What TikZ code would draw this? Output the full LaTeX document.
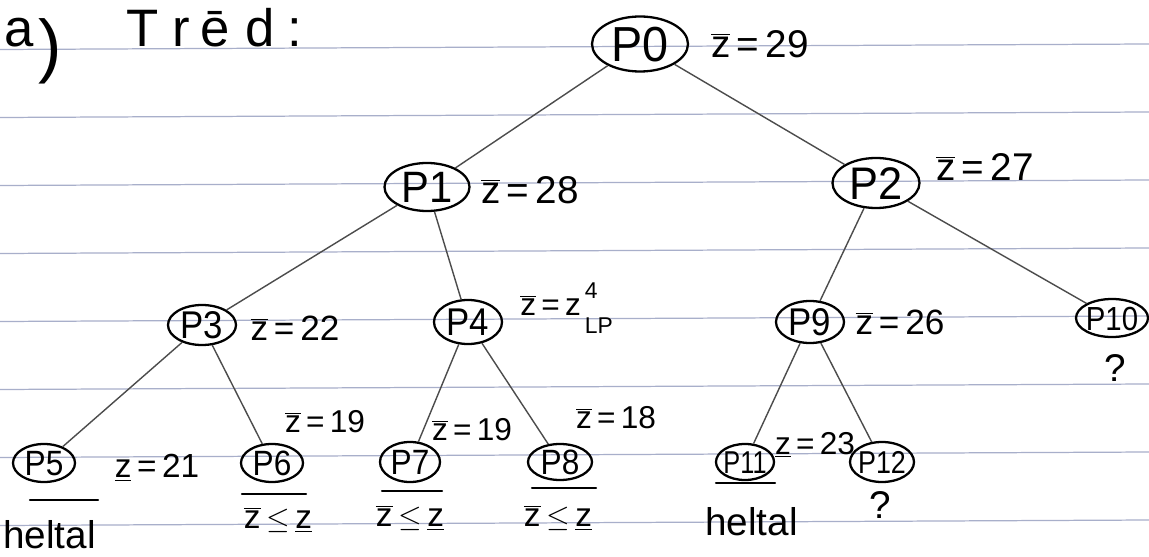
\documentclass[tikz,border=0pt]{standalone}
\usepackage{fontspec}
\usepackage{graphicx}
\setmainfont{Liberation Sans}
\usetikzlibrary{shapes.geometric}
\definecolor{rulecol}{RGB}{168,175,202}
\newcommand{\zbar}{$\overline{\hbox{z}}$}
\newcommand{\zund}{$\underline{\hbox{z}}$}
\newcommand{\fs}[1]{\fontsize{#1}{#1}\selectfont}
\newcommand{\nt}[2][1]{\smash{\makebox[0pt]{\raisebox{-0.36em}{\scalebox{#1}[1]{#2}}}}}
\begin{document}
\begin{tikzpicture}[x=0.02cm,y=-0.02cm,
  rule/.style={draw=rulecol, line width=0.7pt},
  pn/.style 2 args={ellipse, draw=black, line width=1.3pt, inner sep=0pt,
    minimum width=#1*0.02cm, minimum height=#2*0.02cm},
  edge/.style={draw=black!70, line width=0.8pt},
  lab/.style={inner sep=0pt, anchor=center},
  ulmark/.style={draw=black, line width=1.2pt, line cap=round}]
\useasboundingbox (0,0) rectangle (1149,557);
\fill[white] (0,0) rectangle (1149,557);
\foreach \y in {47,115,183,251,319,387,455,523}
  \draw[rule] (0,\y+2.5) -- (1149,\y-3);
% title
\node[lab, anchor=base west, font=\fs{30}] (ta) at (4,47) {a\hspace{3pt}\raisebox{-13pt}{\fs{40})}};
\node[lab, anchor=base west, font=\fs{30}] (tt) at (126,47)
  {T\hspace{8pt}r\hspace{6pt}\=e\hspace{9pt}d\hspace{7pt}:};
% tree nodes
\node[pn={96}{55}, font=\fs{28}] (P0) at (640,44) {\nt[0.95]{P0}};
\node[pn={85}{48}, font=\fs{25}] (P1) at (427,187) {\nt[0.95]{P1}};
\node[pn={87}{50}, font=\fs{26}] (P2) at (876,183) {\nt[0.95]{P2}};
\node[pn={68}{40}, font=\fs{22}] (P3) at (202,325) {\nt[0.9]{P3}};
\node[pn={68}{44}, font=\fs{22}] (P4) at (468,322) {\nt[0.9]{P4}};
\node[pn={68}{42}, font=\fs{22}] (P9) at (810,322) {\nt[0.9]{P9}};
\node[pn={72}{38}, font=\fs{19}] (P10) at (1112,318) {\nt[0.88]{P10}};
\node[pn={62}{38}, font=\fs{20}] (P5) at (44,463) {\nt[0.9]{P5}};
\node[pn={62}{38}, font=\fs{20}] (P6) at (272,463) {\nt[0.9]{P6}};
\node[pn={60}{40}, font=\fs{20}] (P7) at (410,462) {\nt[0.9]{P7}};
\node[pn={64}{36}, font=\fs{20}] (P8) at (560,462) {\nt[0.9]{P8}};
\node[pn={58}{36}, font=\fs{18}] (P11) at (745,462) {\nt[0.8]{P11}};
\node[pn={64}{40}, font=\fs{18}] (P12) at (882,462) {\nt[0.85]{P12}};
% edges
\draw[edge] (P0) -- (P1);
\draw[edge] (P0) -- (P2);
\draw[edge] (P1) -- (P3);
\draw[edge] (P1) -- (P4);
\draw[edge] (P2) -- (P9);
\draw[edge] (P2) -- (P10);
\draw[edge] (P3) -- (P5);
\draw[edge] (P3) -- (P6);
\draw[edge] (P4) -- (P7);
\draw[edge] (P4) -- (P8);
\draw[edge] (P9) -- (P11);
\draw[edge] (P9) -- (P12);
% bound labels
\node[lab, font=\fs{22}] (L0) at (760,44) {\zbar\,=\,29};
\node[lab, font=\fs{22}] (L1) at (530,190) {\zbar\,=\,28};
\node[lab, font=\fs{22}] (L2) at (985,167) {\zbar\,=\,27};
\node[lab, font=\fs{20}] (L3) at (295,328) {\zbar\,=\,22};
\node[lab, font=\fs{18}, anchor=west] (L4) at (520,308)
  {\zbar\,=\,z\rlap{\raisebox{1.0ex}{\fs{13}\,4}}\raisebox{-1.1ex}{\fs{13}\,LP}};
\node[lab, font=\fs{20}] (L9) at (900,322) {\zbar\,=\,26};
\node[lab, font=\fs{22}] (Q10) at (1115,368) {?};
\node[lab, font=\fs{19}] (L5) at (157,468) {\zund\,=\,21};
\node[lab, font=\fs{18}] (L6) at (325,422) {\zbar\,=\,19};
\node[lab, font=\fs{18}] (L7) at (472,430) {\zbar\,=\,19};
\node[lab, font=\fs{18}] (L8) at (616,418) {\zbar\,=\,18};
\node[lab, font=\fs{18}] (L11) at (815,445) {\zund\,=\,23};
\node[lab, font=\fs{22}] (Q12) at (880,505) {?};
% underline marks
\draw[ulmark] (30,500) -- (98,500);
\draw[ulmark] (242,494) -- (306,494);
\draw[ulmark] (382,491) -- (442,491);
\draw[ulmark] (532,488) -- (596,488);
\draw[ulmark] (716,483) -- (775,483);
% bottom notes
\node[lab, anchor=base west, font=\fs{22}] (H5) at (3,548) {heltal};
\node[lab, font=\fs{19}] (C6) at (278,520) {\zbar\,$\le$\,\zund};
\node[lab, font=\fs{19}] (C7) at (410,518) {\zbar\,$\le$\,\zund};
\node[lab, font=\fs{19}] (C8) at (558,518) {\zbar\,$\le$\,\zund};
\node[lab, anchor=base west, font=\fs{22}] (H11) at (705,535) {heltal};
\end{tikzpicture}
\end{document}
